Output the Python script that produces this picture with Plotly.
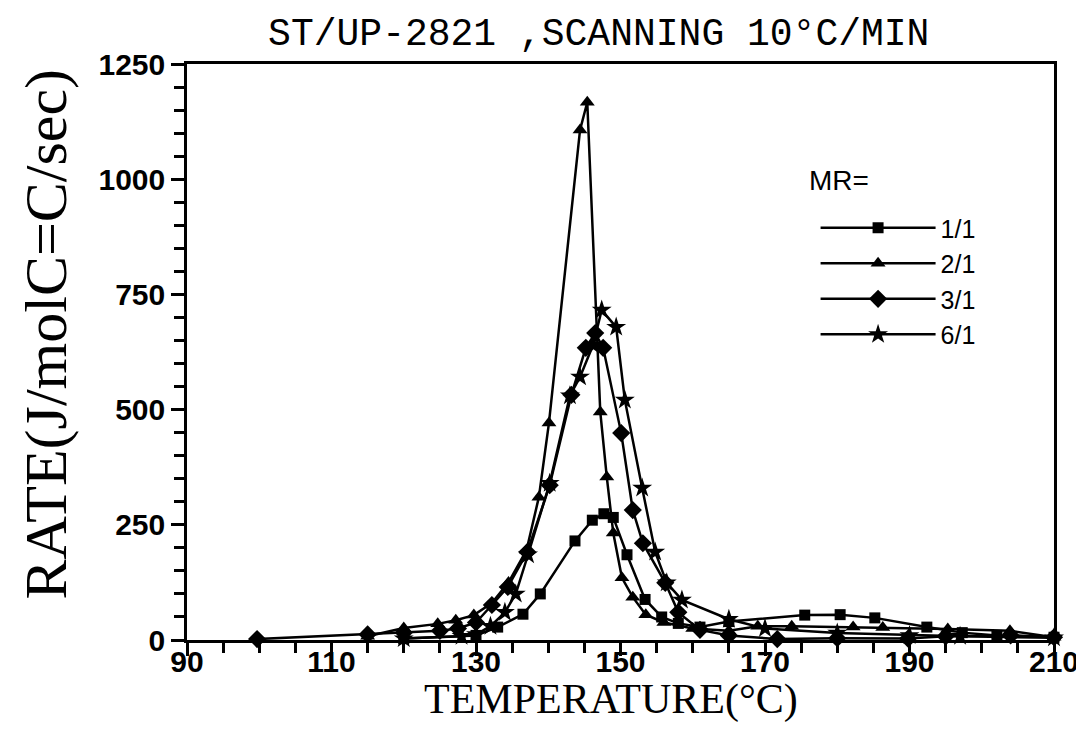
import plotly.graph_objects as go

# ---- data ----
t_11 = [120, 130, 133, 136.5, 138.9, 143.7, 146.1, 147.7, 149.0, 150.9, 153.4, 155.7, 158.0, 161.0, 165.0, 175.5, 180.4, 185.2, 192.4, 197.3, 202.1, 210]
r_11 = [3, 10, 28, 56, 100, 215, 260, 274, 266, 185, 88, 50, 36, 28, 40, 54, 55, 48, 28, 16, 10, 6]

t_21 = [115, 120, 124.7, 127.2, 129.7, 132.2, 134.5, 137.0, 138.7, 140.1, 144.4, 145.4, 147.2, 148.1, 149.0, 150.2, 151.7, 153.5, 156.0, 160.0, 165.0, 169.0, 173.7, 182.2, 186.3, 195.3, 203.9, 210]
r_21 = [8, 26, 35, 43, 54, 80, 125, 195, 310, 471, 1107, 1167, 495, 354, 232, 135, 93, 55, 38, 25, 20, 30, 30, 28, 27, 24, 20, 6]

t_31 = [99.7, 115, 120, 125, 127.5, 130, 132.2, 134.4, 137.1, 140.2, 143.2, 145.2, 146.5, 147.6, 150.1, 151.7, 153.1, 156.2, 158.0, 161.0, 165.0, 171.7, 180.0, 189.8, 195.0, 204.0, 210]
r_31 = [2, 12, 16, 20, 25, 38, 76, 115, 191, 336, 532, 634, 666, 634, 449, 282, 210, 124, 60, 22, 10, 2, 4, 3, 8, 10, 6]

t_61 = [120, 128, 130, 132, 134, 135.5, 137.2, 140.2, 143.0, 144.4, 146.2, 147.4, 149.4, 150.6, 153.0, 154.8, 156.4, 158.5, 165.0, 170.0, 180.0, 190.0, 197.0, 210]
r_61 = [3, 8, 12, 30, 60, 100, 185, 340, 530, 571, 640, 716, 679, 521, 330, 191, 124, 87, 45, 25, 15, 10, 8, 5]

series = [
    ("1/1", t_11, r_11, "square", 11),
    ("2/1", t_21, r_21, "triangle-up", 13),
    ("3/1", t_31, r_31, "diamond", 14),
    ("6/1", t_61, r_61, "star", 15),
]

x_ticks = [90, 110, 130, 150, 170, 190, 210]
y_ticks = [0, 250, 500, 750, 1000, 1250]

fig = go.Figure()
for name, t, r, sym, sz in series:
    fig.add_trace(go.Scatter(
        x=t, y=r, name=name, mode="lines+markers",
        line=dict(color="black", width=2.5),
        marker=dict(symbol=sym, size=sz, color="black"),
        cliponaxis=False,
    ))

tick_font = dict(family="Liberation Sans", size=30, color="black", weight="bold")

fig.update_layout(
    width=1084, height=742,
    margin=dict(l=179, r=38, t=56, b=110, autoexpand=False),
    paper_bgcolor="white", plot_bgcolor="white",
    title=dict(text="ST/UP-2821 ,SCANNING 10°C/MIN",
               font=dict(family="Liberation Mono", size=38, color="black"),
               x=0.545, xanchor="center", y=0.968, yanchor="middle"),
    showlegend=True,
    legend=dict(
        x=0.725, y=0.755, xanchor="left", yanchor="top",
        bgcolor="rgba(0,0,0,0)",
        font=dict(family="Liberation Sans", size=25, color="black"),
        itemwidth=115, tracegroupgap=0,
    ),
    xaxis=dict(
        range=[90, 210], tickvals=x_ticks, ticktext=[str(v) for v in x_ticks],
        ticks="outside", ticklen=13, tickwidth=2.5, tickcolor="black",
        minor=dict(dtick=5, ticks="outside", ticklen=10, tickwidth=2.5, tickcolor="black"),
        showline=True, linecolor="black", linewidth=2.5, mirror=True,
        showgrid=False, zeroline=False, automargin=False,
        tickfont=tick_font, ticklabelstandoff=-20,
    ),
    yaxis=dict(
        range=[0, 1250], tickvals=y_ticks, ticktext=[str(v) for v in y_ticks],
        ticks="outside", ticklen=13, tickwidth=2.5, tickcolor="black",
        minor=dict(dtick=50, ticks="outside", ticklen=10, tickwidth=2.5, tickcolor="black"),
        showline=True, linecolor="black", linewidth=2.5, mirror=True,
        showgrid=False, zeroline=False, automargin=False,
        tickfont=tick_font,
    ),
    annotations=[
        dict(text="TEMPERATURE(°C)", xref="paper", yref="paper",
             x=0.489, y=-0.104, xanchor="center", yanchor="middle", showarrow=False,
             font=dict(family="Liberation Serif", size=42, color="black")),
        dict(text="RATE(J/molC=C/sec)", xref="paper", yref="paper", textangle=-90,
             x=-0.163, y=0.53, xanchor="center", yanchor="middle", showarrow=False,
             font=dict(family="Liberation Serif", size=60, color="black")),
        dict(text="MR=", xref="paper", yref="paper",
             x=0.715, y=0.798, xanchor="left", yanchor="middle", showarrow=False,
             font=dict(family="Liberation Sans", size=28, color="black")),
    ],
)

fig.write_html("out.html")
